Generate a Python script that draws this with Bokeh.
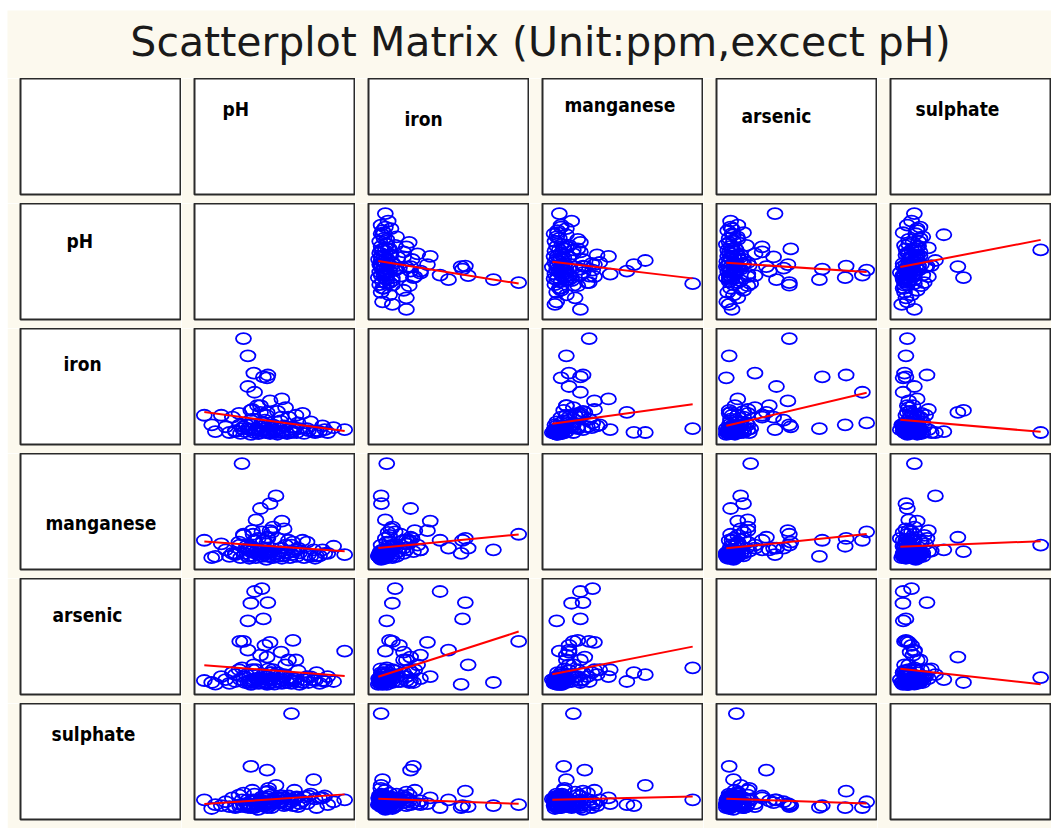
import numpy as np
from bokeh.plotting import figure
from bokeh.layouts import gridplot, column
from bokeh.models import Range1d, Label, ColumnDataSource
from bokeh.embed import file_html
from bokeh.resources import INLINE

# ---------------- data ----------------
title_text = "Scatterplot Matrix (Unit:ppm,excect pH)"
variables = ["pH", "iron", "manganese", "arsenic", "sulphate"]

ph = [7.28, 6.61, 6.63, 6.69, 6.88, 6.78, 6.73, 6.96, 6.69, 6.90,
      6.77, 6.69, 6.99, 6.95, 6.82, 7.15, 6.86, 7.07, 6.99, 6.80,
      7.03, 6.73, 6.95, 7.58, 8.00, 6.10, 6.25, 7.30, 6.92, 6.58,
      7.14, 7.34, 6.39, 6.48, 6.52, 6.57, 6.67, 6.75, 6.83, 6.86,
      6.90, 6.94, 7.01, 7.09, 7.13, 7.18, 7.24, 7.32, 7.37, 7.43,
      7.49, 7.54, 7.62, 7.70, 7.77, 7.85, 7.20, 6.97, 6.33, 6.20,
      6.76, 6.63,
      6.44, 6.52, 6.59, 6.65, 6.71, 6.73, 6.78, 6.80, 6.84, 6.88,
      6.92, 6.94, 6.97, 6.99, 7.03, 7.05, 7.09, 7.11, 7.15, 7.16,
      7.22, 7.26, 7.28, 7.35, 7.39, 7.45, 7.51, 7.60, 7.66, 7.73,
      6.86, 7.01, 7.18, 6.77, 6.96, 7.30]

iron = [0.15, 0.35, 5.05, 4.15, 0.65, 2.25, 0.55, 3.15, 0.35, 3.05,
        3.25, 2.55, 1.80, 3.00, 1.55, 1.90, 1.20, 0.15, 0.16, 0.30,
        0.55, 1.30, 1.20, 0.20, 0.30, 1.05, 0.20, 0.45, 0.80, 0.55,
        0.95, 1.05, 0.45, 0.95, 0.20, 1.15, 0.55, 1.35, 0.30, 1.55,
        0.65, 1.05, 0.40, 1.25, 0.75, 0.50, 0.95, 0.30, 0.65, 1.15,
        0.35, 0.70, 0.25, 0.50, 0.15, 0.40, 1.45, 0.14, 1.05, 0.55,
        0.85, 0.45,
        0.15, 0.25, 0.10, 0.20, 0.30, 0.05, 0.15, 0.25, 0.10, 0.20,
        0.35, 0.15, 0.25, 0.10, 0.30, 0.20, 0.06, 0.35, 0.15, 0.25,
        0.10, 0.30, 0.20, 0.15, 0.35, 0.10, 0.25, 0.15, 0.20, 0.30,
        0.45, 0.40, 0.45, 0.35, 0.50, 0.40]

manganese = [0.26, 1.62, 0.44, 0.18, 0.48, 0.34, 0.24, 0.37, 0.07, 0.34,
             0.21, 0.21, 0.50, 0.12, 0.18, 0.66, 0.87, 1.08, 0.95, 0.68,
             0.56, 0.15, 0.39, 0.18, 0.10, 0.34, 0.07, 0.31, 0.21, 0.26,
             0.21, 0.18, 0.18, 0.12, 0.12, 0.31, 0.24, 0.50, 0.37, 0.18,
             0.12, 0.28, 0.47, 0.37, 0.15, 0.53, 0.34, 0.15, 0.21, 0.34,
             0.31, 0.07, 0.08, 0.18, 0.12, 0.24, 0.26, 0.16, 0.28, 0.05,
             0.44, 0.42,
             0.07, 0.10, 0.05, 0.12, 0.04, 0.08, 0.13, 0.05, 0.10, 0.07,
             0.12, 0.02, 0.08, 0.13, 0.05, 0.10, 0.07, 0.12, 0.04, 0.08,
             0.12, 0.05, 0.10, 0.07, 0.13, 0.05, 0.10, 0.04, 0.08, 0.12,
             0.15, 0.16, 0.13, 0.18, 0.07, 0.15]

arsenic = [0.023, 0.053, 0.134, 0.008, 0.296, 0.287, 0.251, 0.253, 0.197, 0.203,
           0.062, 0.107, 0.131, 0.002, 0.020, 0.026, 0.011, 0.032, 0.038, 0.047,
           0.047, 0.008, 0.086, 0.017, 0.104, 0.014, 0.003, 0.137, 0.122, 0.134,
           0.101, 0.077, 0.017, 0.038, 0.032, 0.047, 0.032, 0.047, 0.017, 0.092,
           0.032, 0.026, 0.038, 0.038, 0.011, 0.032, 0.077, 0.020, 0.044, 0.008,
           0.026, 0.025, 0.038, 0.014, 0.026, 0.011, 0.062, 0.050, 0.026, 0.008,
           0.011, 0.026,
           0.005, 0.011, 0.017, 0.008, 0.014, 0.002, 0.008, 0.020, 0.005, 0.011,
           0.008, 0.017, 0.005, 0.014, 0.008, 0.003, 0.020, 0.011, 0.005, 0.017,
           0.008, 0.014, 0.005, 0.011, 0.002, 0.017, 0.008, 0.014, 0.005, 0.011,
           0.023, 0.020, 0.026, 0.017, 0.026, 0.014]

sulphate = [242.0, 26.0, 14.0, 11.6, 21.2, 6.8, 6.5, 47.6, 7.0, 11.6,
            9.2, 26.0, 16.4, 6.8, 14.0, 30.8, 14.0, 62.0, 11.6, 16.4,
            26.0, 110.0, 100.4, 76.4, 26.0, 26.0, 14.0, 11.6, 21.2, 9.2,
            18.8, 30.8, 21.2, 30.8, 9.2, 38.0, 16.4, 50.0, 2.0, 23.6,
            11.6, 45.2, 6.8, 18.8, 28.4, 11.6, 35.6, 50.0, 9.2, 23.6,
            16.4, 40.4, 6.8, 30.8, 14.0, 21.2, 16.4, 54.8, 11.6, 4.4,
            26.0, 42.8,
            9.2, 6.8, 14.0, 9.2, 11.6, 14.0, 40.4, 23.6, 18.8, 33.2,
            11.6, 28.4, 21.2, 38.0, 16.4, 26.0, 30.8, 18.8, 23.6, 35.6,
            14.0, 28.4, 21.2, 33.2, 16.4, 33.2, 35.6, 28.4, 30.8, 35.6,
            26.0, 21.2, 30.8, 23.6, 33.2, 26.0]

columns = {"pH": ph, "iron": iron, "manganese": manganese,
           "arsenic": arsenic, "sulphate": sulphate}

# ---------------- style / layout ----------------
BG = "#FCF9EE"
PANEL = "#FFFFFF"
BORDER = "#2a2a2a"
MARK = "#0000FF"
FIT = "#FF0000"
CELL_W, CELL_H = 174, 125
FRAME_W, FRAME_H = 160, 116
MB_L, MB_R, MB_T, MB_B = 13, 1, 0, 9
XPAD, YPAD = 0.07, 0.105
LABEL_FONT = "DejaVu Sans Condensed"
LABEL_SIZE = "19px"
# per-label offsets inside the frame (left offset, baseline offset from top)
header_pos = {"pH": (28, 30), "iron": (36, 40), "manganese": (22, 26),
              "arsenic": (25, 37), "sulphate": (25, 30)}
side_pos = {"pH": (46, 37), "iron": (43, 35), "manganese": (25, 69),
            "arsenic": (32, 36), "sulphate": (31, 30)}


def cell(xr=None, yr=None):
    if xr is None:
        xr = Range1d(0, FRAME_W)
    if yr is None:
        yr = Range1d(0, FRAME_H)
    p = figure(width=CELL_W, height=CELL_H, x_range=xr, y_range=yr,
               output_backend="svg", toolbar_location=None,
               x_axis_type=None, y_axis_type=None,
               min_border_left=MB_L, min_border_right=MB_R,
               min_border_top=MB_T, min_border_bottom=MB_B)
    p.background_fill_color = PANEL
    p.border_fill_color = BG
    p.outline_line_color = BORDER
    p.outline_line_width = 2
    return p


def label_cell(text, pos):
    p = cell()
    p.add_layout(Label(x=pos[0], y=FRAME_H - pos[1], text=text,
                       text_font=LABEL_FONT, text_font_size=LABEL_SIZE,
                       text_font_style="bold", text_color="#000000",
                       text_align="left", text_baseline="alphabetic"))
    return p


def padded(vals, pad):
    lo, hi = float(min(vals)), float(max(vals))
    span = hi - lo
    return Range1d(lo - span * pad, hi + span * pad)


def scatter_cell(xname, yname):
    xv = np.array(columns[xname], dtype=float)
    yv = np.array(columns[yname], dtype=float)
    p = cell(padded(xv, XPAD), padded(yv, YPAD))
    src = ColumnDataSource(dict(x=xv, y=yv))
    p.ellipse(x="x", y="y", width=15, height=11,
              width_units="screen", height_units="screen",
              source=src, fill_color=None, line_color=MARK, line_width=1.8)
    b, a = np.polyfit(xv, yv, 1)          # least-squares fit line
    xs = np.array([xv.min(), xv.max()])
    p.line(xs, a + b * xs, line_color=FIT, line_width=2)
    return p


rows = []
for i in range(6):
    r = []
    for j in range(6):
        if i == 0 and j == 0:
            r.append(cell())
        elif i == 0:
            v = variables[j - 1]
            r.append(label_cell(v, header_pos[v]))
        elif j == 0:
            v = variables[i - 1]
            r.append(label_cell(v, side_pos[v]))
        elif i == j:
            r.append(cell())
        else:
            r.append(scatter_cell(variables[j - 1], variables[i - 1]))
    rows.append(r)

grid = gridplot(rows, toolbar_location=None)

tw, th = CELL_W * 6, 68
title_fig = figure(width=tw, height=th, x_range=Range1d(0, tw), y_range=Range1d(0, th),
                   output_backend="svg", toolbar_location=None,
                   x_axis_type=None, y_axis_type=None,
                   min_border_left=0, min_border_right=0,
                   min_border_top=0, min_border_bottom=0)
title_fig.background_fill_color = BG
title_fig.border_fill_color = BG
title_fig.outline_line_color = None
title_fig.add_layout(Label(x=533, y=th - 31, text=title_text,
                           text_font="DejaVu Sans", text_font_size="41px",
                           text_color="#1a1a1a", text_align="center",
                           text_baseline="alphabetic"))

layout = column(title_fig, grid, margin=(10, 0, 0, 7), spacing=0)

open("out.html", "w").write(file_html(layout, INLINE))
